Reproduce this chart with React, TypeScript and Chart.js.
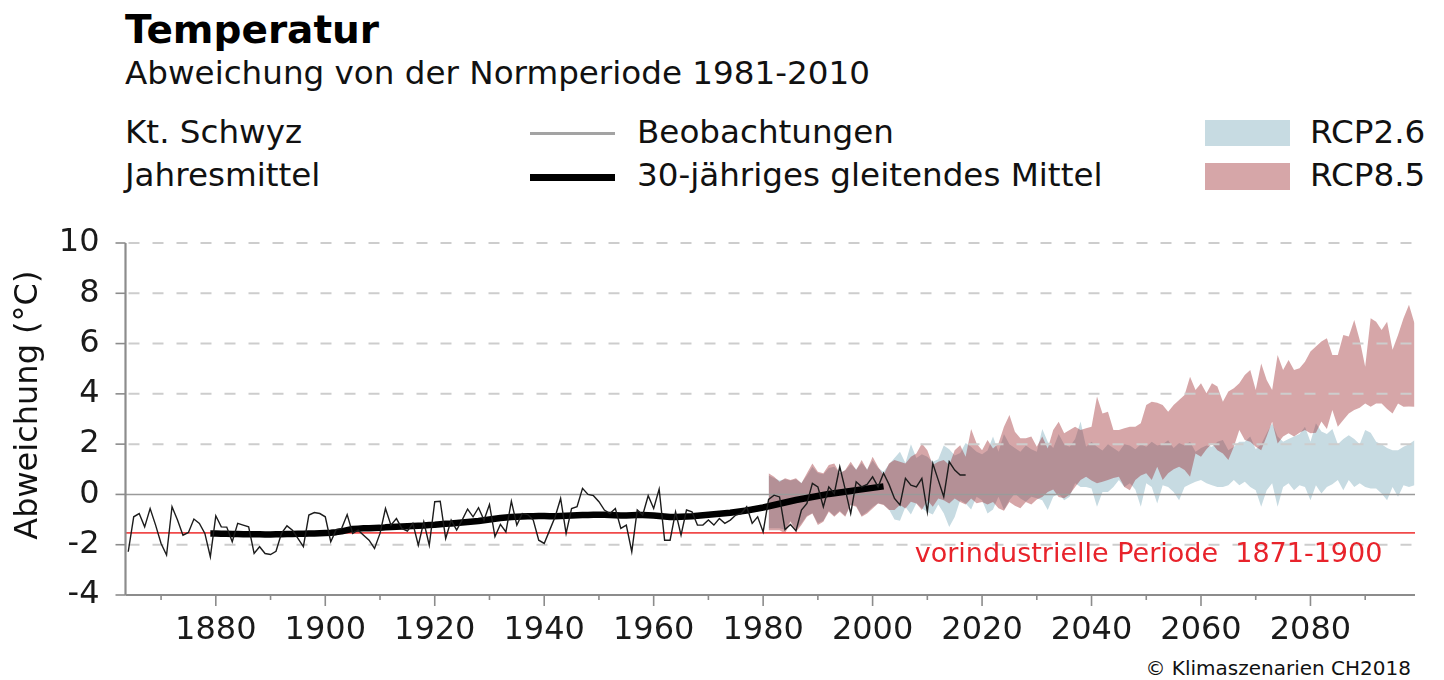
import React, { useEffect, useRef } from "react";
import { Chart, registerables } from "chart.js";

Chart.register(...registerables);

const FONT = '"DejaVu Sans", "Liberation Sans", sans-serif';

// ---------------- data ----------------
const OBS_START = 1864;
const observations = [
  -2.28, -0.89, -0.76, -1.29, -0.56, -1.22,
  -1.95, -2.41, -0.49, -1.02, -1.62, -1.51, -0.98, -1.15, -1.55, -2.48,
  -0.85, -1.29, -1.3, -1.88, -1.15, -1.22, -1.29, -2.35, -2.08, -2.35,
  -2.39, -2.26, -1.55, -1.25, -1.42, -1.75, -2.08, -0.82, -0.72, -0.76,
  -0.89, -1.88, -1.4, -1.35, -0.8, -1.55, -1.42, -1.62, -1.82, -2.15,
  -1.55, -0.56, -1.22, -0.96, -1.35, -1.46, -1.15, -2.02, -1.09, -2.02,
  -0.29, -0.27, -1.75, -1.02, -1.42, -1.02, -0.58, -0.89, -0.53, -1.02,
  -0.4, -1.68, -1.19, -1.49, -0.27, -1.22, -0.76, -0.8, -1.02, -1.82,
  -1.95, -1.42, -0.89, -0.16, -1.55, -0.56, -0.49, 0.24, 0.0, -0.05,
  -0.29, -0.62, -0.76, -0.56, -1.35, -1.22, -2.28, -0.62, -0.82, -0.05,
  -0.56, 0.21, -1.82, -1.82, -0.69, -1.62, -0.62, -0.69, -1.22, -1.22,
  -1.02, -1.22, -0.96, -1.15, -1.02, -0.82, -0.76, -0.49, -1.15, -0.89,
  -1.49, -0.2, -0.03, -0.1, -1.4, -1.2, -1.45, -0.62, -0.36, 0.44,
  0.3, -0.49, 0.3, 0.04, 1.1, 0.2, -0.76, 0.5, 0.3, 0.4,
  0.7, 0.3, 0.84, 0.4, -0.16, -0.42, 0.64, 0.37, 0.3, 0.64,
  -0.69, 1.23, 0.57, -0.09, 1.3, 0.97, 0.77, 0.77,
];

const MA_START = 1879;
const movingAverage = [
  -1.55,
  -1.55, -1.56, -1.56, -1.57, -1.57, -1.58, -1.58, -1.58, -1.58, -1.59,
  -1.59, -1.58, -1.58, -1.57, -1.57, -1.56, -1.56, -1.55, -1.55, -1.54,
  -1.53, -1.52, -1.5, -1.47, -1.42, -1.37, -1.36, -1.35, -1.35, -1.34,
  -1.33, -1.31, -1.3, -1.29, -1.28, -1.27, -1.26, -1.25, -1.24, -1.22,
  -1.21, -1.19, -1.17, -1.16, -1.14, -1.12, -1.1, -1.08, -1.06, -1.03,
  -1.0, -0.97, -0.94, -0.92, -0.9, -0.89, -0.88, -0.87, -0.87, -0.86,
  -0.86, -0.87, -0.87, -0.86, -0.85, -0.84, -0.83, -0.82, -0.82, -0.81,
  -0.81, -0.81, -0.82, -0.83, -0.84, -0.84, -0.83, -0.82, -0.82, -0.83,
  -0.84, -0.86, -0.88, -0.9, -0.9, -0.89, -0.88, -0.87, -0.85, -0.83,
  -0.81, -0.79, -0.77, -0.75, -0.73, -0.7, -0.67, -0.64, -0.6, -0.56,
  -0.52, -0.47, -0.42, -0.37, -0.32, -0.27, -0.22, -0.18, -0.14, -0.1,
  -0.06, -0.02, 0.02, 0.05, 0.08, 0.11, 0.14, 0.17, 0.2, 0.23,
  0.26, 0.29, 0.32,
];

const SCEN_START = 1981;
const rcp85High = [
  0.84, 0.7, 0.5, 0.64, 0.57, 0.64, 0.44, 0.84, 1.23, 0.9,
  0.84, 1.17, 1.23, 0.84, 0.97, 1.3, 0.97, 1.37, 0.97, 1.5,
  1.1, 0.77, 1.23, 1.37, 1.3, 1.23, 1.5, 1.63, 2.03, 1.76,
  1.17, 1.3, 1.37, 1.17, 1.76, 1.96, 1.5, 2.6, 2.03, 1.76,
  2.16, 1.83, 2.03, 2.69, 3.16, 2.49, 2.23, 2.23, 2.3, 1.9,
  2.3, 1.83, 2.56, 2.89, 2.43, 2.56, 2.69, 2.56, 2.63, 2.69,
  3.89, 3.22, 3.29, 2.56, 2.56, 2.63, 2.69, 2.69, 2.83, 3.56,
  3.69, 3.65, 3.56, 3.29, 3.56, 3.76, 3.95, 4.68, 4.15, 4.42,
  4.02, 4.42, 4.29, 3.69, 4.09, 4.22, 4.42, 4.75, 4.95, 4.15,
  5.21, 4.55, 4.15, 5.55, 4.95, 5.35, 4.95, 5.02, 5.28, 5.68,
  5.88, 6.08, 6.21, 5.55, 5.55, 6.34, 6.28, 6.94, 6.14, 5.08,
  7.01, 6.87, 6.54, 6.87, 5.75, 6.34, 7.01, 7.54, 6.81,
];
const rcp85Low = [
  -1.42, -1.42, -1.42, -1.55, -1.09, -1.49, -1.22, -0.89, -0.76, -1.22,
  -1.09, -0.69, -0.89, -0.69, -0.89, -0.42, -0.49, -0.89, -0.76, -0.56,
  -0.36, -0.42, -0.62, -0.62, -0.42, -0.56, -0.29, -0.36, -0.62, -0.23,
  -0.49, -0.16, -0.23, -0.36, -0.16, -0.3, -0.4, -0.16, -0.35, -0.3,
  -0.4, -0.3, -0.55, -0.65, -0.3, -0.45, -0.55, -0.3, -0.4, -0.2,
  -0.1, 0.1, 0.2, -0.1, -0.15, 0.0, 0.3, 0.57, 0.7, 0.55,
  0.44, 0.5, 0.57, 0.65, 0.7, 0.3, 0.17, 0.57, 0.75, 0.84,
  0.57, 1.1, 0.57, 0.84, 1.0, 1.1, 0.97, 0.7, 1.63, 1.5,
  1.8, 2.03, 1.76, 1.63, 1.37, 1.9, 2.56, 2.16, 2.1, 1.9,
  1.76, 2.3, 2.89, 2.03, 2.3, 2.43, 2.3, 2.45, 2.56, 2.43,
  2.45, 2.9, 2.6, 3.36, 2.69, 2.96, 3.22, 3.36, 3.45, 3.62,
  3.49, 3.62, 3.62, 3.4, 3.22, 3.62, 3.49, 3.5, 3.49,
];
const rcp26High = [
  0.75, 0.65, 0.55, 0.6, 0.55, 0.6, 0.45, 0.75, 1.1, 0.85,
  0.8, 1.05, 1.1, 0.85, 0.95, 1.2, 1.0, 1.25, 1.0, 1.35,
  1.05, 0.9, 1.2, 1.45, 1.7, 1.25, 2.0, 1.45, 1.6, 1.5,
  1.3, 1.4, 1.95, 1.8, 1.55, 1.65, 2.05, 1.9, 1.7, 1.6,
  1.75, 2.3, 1.7, 2.4, 2.0, 1.85, 1.7, 1.95, 1.8, 1.7,
  2.6, 2.1, 1.85, 2.4, 2.0, 1.9, 2.2, 2.9, 1.9, 2.1,
  1.9, 1.75, 2.0, 1.85, 1.7, 2.0, 1.95, 1.8, 2.0, 1.9,
  2.1, 1.95, 2.0, 2.15, 1.85, 2.05, 1.95, 2.1, 1.7, 1.85,
  1.95, 1.9, 2.1, 2.16, 1.76, 1.9, 2.1, 2.1, 2.3, 1.8,
  2.0, 2.43, 2.83, 2.3, 2.1, 2.2, 2.3, 2.4, 2.69, 2.1,
  2.83, 2.5, 2.4, 2.6, 2.0, 2.2, 2.35, 2.2, 2.0, 2.56,
  2.45, 2.1, 2.0, 1.85, 1.76, 1.76, 1.9, 2.0, 2.15,
];
const rcp26Low = [
  -1.35, -1.35, -1.35, -1.4, -1.05, -1.4, -1.15, -0.85, -0.75, -1.15,
  -1.05, -0.65, -0.85, -0.65, -0.85, -0.4, -0.45, -0.85, -0.7, -0.5,
  -0.35, -0.4, -0.6, -1.0, -1.05, -0.5, -0.8, -0.35, -0.55, -0.7,
  -0.8, -0.4, -0.75, -1.3, -0.9, -0.23, -0.36, -0.6, -0.09, -0.23,
  -0.76, -0.6, -0.09, -0.62, -0.23, 0.04, -0.16, -0.29, -0.09, -0.15,
  -0.23, -0.62, -0.09, 0.04, -0.23, -0.09, 0.44, 0.3, 0.3, 0.24,
  -0.49, 0.1, 0.1, 0.3, 0.57, 0.3, 0.44, 0.2, -0.49, 0.44,
  0.3, -0.36, 0.37, 0.3, 0.1, -0.23, 0.3, 0.4, 0.5, 0.57,
  0.44, 0.37, 0.3, 0.3, 0.37, 0.57, 0.37, 0.5, 0.3, 0.17,
  -0.49, 0.17, 0.44, -0.49, 0.3, 0.44, 0.17, 0.37, 0.3, -0.23,
  0.37, 0.04, 0.3, 0.4, 0.57, 0.17, 0.57, 0.3, 0.44, 0.3,
  0.24, 0.24, 0.04, -0.23, 0.3, -0.09, 0.37, 0.3, 0.37,
];

const PREINDUSTRIAL = -1.53;
const Y_TICKS = [-4, -2, 0, 2, 4, 6, 8, 10];
const X_MAJOR = [1880, 1900, 1920, 1940, 1960, 1980, 2000, 2020, 2040, 2060, 2080];
const X_MINOR = [1870, 1890, 1910, 1930, 1950, 1970, 1990, 2010, 2030, 2050, 2070, 2090];
const X_MIN = 1863.5;
const X_MAX = 2099.1;
const Y_MIN = -4;
const Y_MAX = 10;

const TITLE = "Temperatur";
const SUBTITLE = "Abweichung von der Normperiode 1981-2010";
const REGION = "Kt. Schwyz";
const PERIOD = "Jahresmittel";
const LEG_OBS = "Beobachtungen";
const LEG_MA = "30-jähriges gleitendes Mittel";
const LEG_26 = "RCP2.6";
const LEG_85 = "RCP8.5";
const Y_TITLE = "Abweichung (°C)";
const PREIND_LABEL = "vorindustrielle Periode  1871-1900";
const COPYRIGHT = "© Klimaszenarien CH2018";

const BLUE = "rgb(199,219,226)";
const RED = "rgba(152,32,37,0.4)";
const AXIS_GRAY = "#8c8c8c";
const BODY = 32.6;

const series = (start: number, vals: number[]) => vals.map((y, i) => ({ x: start + i, y }));

const textStyle = (left: number, baseline: number, size: number, extra: any = {}) => ({
  position: "absolute" as const,
  left,
  top: baseline - 0.846 * size,
  fontSize: size,
  lineHeight: `${size}px`,
  fontFamily: FONT,
  whiteSpace: "nowrap" as const,
  color: "#111",
  ...extra,
});

export default function App() {
  const ref = useRef<HTMLCanvasElement>(null);

  useEffect(() => {
    const canvas = ref.current!;

    const drawGrid = (chart: any) => {
      const { ctx, chartArea: a, scales } = chart;
      const y = scales.y;
      ctx.save();
      for (const v of Y_TICKS) {
        if (v === Y_MIN) continue;
        const py = y.getPixelForValue(v);
        ctx.beginPath();
        if (v === 0) {
          ctx.setLineDash([]);
          ctx.strokeStyle = "#9a9a9a";
          ctx.lineWidth = 1.5;
          ctx.moveTo(a.left, py);
        } else {
          ctx.setLineDash([11, 13]);
          ctx.strokeStyle = "#cdcdcd";
          ctx.lineWidth = 2;
          ctx.moveTo(a.left + 3, py);
        }
        ctx.lineTo(a.right, py);
        ctx.stroke();
      }
      ctx.restore();
    };

    const decor = {
      id: "decor",
      afterDatasetDraw(chart: any, args: any) {
        if (args.index === 3) drawGrid(chart);
      },
      afterDatasetsDraw(chart: any) {
        const { ctx, chartArea: a, scales } = chart;
        const x = scales.x;
        const y = scales.y;
        ctx.save();
        ctx.setLineDash([]);
        ctx.strokeStyle = AXIS_GRAY;
        ctx.lineWidth = 2.2;
        ctx.beginPath();
        ctx.moveTo(a.left, a.top);
        ctx.lineTo(a.left, a.bottom);
        ctx.stroke();
        ctx.lineWidth = 1.8;
        ctx.beginPath();
        ctx.moveTo(a.left, a.bottom);
        ctx.lineTo(a.right, a.bottom);
        ctx.stroke();
        ctx.lineWidth = 1.6;
        for (const v of Y_TICKS) {
          const py = y.getPixelForValue(v);
          ctx.beginPath();
          ctx.moveTo(a.left - 10, py);
          ctx.lineTo(a.left, py);
          ctx.stroke();
        }
        for (const v of X_MAJOR) {
          const px = x.getPixelForValue(v);
          ctx.beginPath();
          ctx.moveTo(px, a.bottom);
          ctx.lineTo(px, a.bottom + 11);
          ctx.stroke();
        }
        for (const v of X_MINOR) {
          const px = x.getPixelForValue(v);
          ctx.beginPath();
          ctx.moveTo(px, a.bottom);
          ctx.lineTo(px, a.bottom + 5);
          ctx.stroke();
        }
        ctx.fillStyle = "#e8232b";
        ctx.font = `27px ${FONT}`;
        ctx.textAlign = "left";
        ctx.textBaseline = "alphabetic";
        ctx.fillText(PREIND_LABEL, x.getPixelForValue(2007.7), y.getPixelForValue(-2.68));
        ctx.fillStyle = "#111";
        ctx.font = `32px ${FONT}`;
        ctx.textAlign = "center";
        ctx.textBaseline = "middle";
        ctx.translate(29, y.getPixelForValue(3.55));
        ctx.rotate(-Math.PI / 2);
        ctx.fillText(Y_TITLE, 0, 0);
        ctx.restore();
      },
    };

    const lineDs = (data: any[], color: string, width: number, extra: any = {}) => ({
      data,
      borderColor: color,
      borderWidth: width,
      pointRadius: 0,
      pointHoverRadius: 0,
      tension: 0,
      fill: false,
      ...extra,
    });

    const chart = new Chart(canvas, {
      type: "line",
      data: {
        datasets: [
          lineDs(series(OBS_START, observations), "#1c1c1c", 1.4),
          lineDs(series(MA_START, movingAverage), "#000", 6.5, { borderCapStyle: "butt", borderJoinStyle: "round" }),
          lineDs(
            [
              { x: X_MIN, y: PREINDUSTRIAL },
              { x: X_MAX, y: PREINDUSTRIAL },
            ],
            "#f04a4a",
            1.8
          ),
          lineDs(series(SCEN_START, rcp85High), "rgba(0,0,0,0)", 0, { fill: 4, backgroundColor: RED }),
          lineDs(series(SCEN_START, rcp85Low), "rgba(0,0,0,0)", 0),
          lineDs(series(SCEN_START, rcp26High), "rgba(0,0,0,0)", 0, { fill: 6, backgroundColor: BLUE }),
          lineDs(series(SCEN_START, rcp26Low), "rgba(0,0,0,0)", 0),
        ],
      },
      options: {
        responsive: false,
        animation: false,
        devicePixelRatio: 1,
        events: [],
        layout: { padding: { left: 0, right: 29, top: 243, bottom: 0 } },
        plugins: {
          legend: { display: false },
          tooltip: { enabled: false },
          title: { display: false },
        },
        scales: {
          x: {
            type: "linear",
            min: X_MIN,
            max: X_MAX,
            grid: { display: false, drawTicks: false },
            border: { display: false },
            afterBuildTicks: (s: any) => {
              s.ticks = X_MAJOR.map((v) => ({ value: v }));
            },
            afterFit: (s: any) => {
              s.height = 85;
            },
            ticks: {
              autoSkip: false,
              maxRotation: 0,
              padding: 16,
              color: "#1a1a1a",
              font: { family: FONT, size: 32 },
              callback: (v: any) => String(v),
            },
          },
          y: {
            type: "linear",
            min: Y_MIN,
            max: Y_MAX,
            grid: { display: false, drawTicks: false },
            border: { display: false },
            afterBuildTicks: (s: any) => {
              s.ticks = Y_TICKS.map((v) => ({ value: v }));
            },
            afterFit: (s: any) => {
              s.width = 125.5;
            },
            ticks: {
              padding: 26,
              color: "#1a1a1a",
              font: { family: FONT, size: 32 },
              callback: (v: any) => String(v),
            },
          },
        },
      },
      plugins: [decor],
    } as any);

    return () => chart.destroy();
  }, []);

  return (
    <div style={{ position: "absolute", left: 0, top: 0, width: 1444, height: 680, background: "#fff", overflow: "hidden" }}>
      <div style={textStyle(125, 43, 39, { fontWeight: "bold", color: "#000" })}>{TITLE}</div>
      <div style={textStyle(125, 85, BODY)}>{SUBTITLE}</div>
      <div style={textStyle(125, 144, BODY)}>{REGION}</div>
      <div style={textStyle(125, 187, BODY)}>{PERIOD}</div>
      <div style={{ position: "absolute", left: 530, top: 132, width: 85, height: 3, background: "#a3a3a3" }} />
      <div style={{ position: "absolute", left: 530, top: 174, width: 85, height: 6.5, background: "#000" }} />
      <div style={textStyle(637, 144, BODY)}>{LEG_OBS}</div>
      <div style={textStyle(637, 187, BODY)}>{LEG_MA}</div>
      <div style={{ position: "absolute", left: 1205, top: 120, width: 85, height: 26, background: BLUE }} />
      <div style={{ position: "absolute", left: 1205, top: 163, width: 85, height: 27, background: RED }} />
      <div style={textStyle(1310, 144, BODY)}>{LEG_26}</div>
      <div style={textStyle(1310, 187, BODY)}>{LEG_85}</div>
      <div style={{ ...textStyle(0, 675, 20), left: "auto", right: 33 }}>{COPYRIGHT}</div>
      <canvas ref={ref} width={1444} height={680} style={{ position: "absolute", left: 0, top: 0, width: 1444, height: 680 }} />
    </div>
  );
}
